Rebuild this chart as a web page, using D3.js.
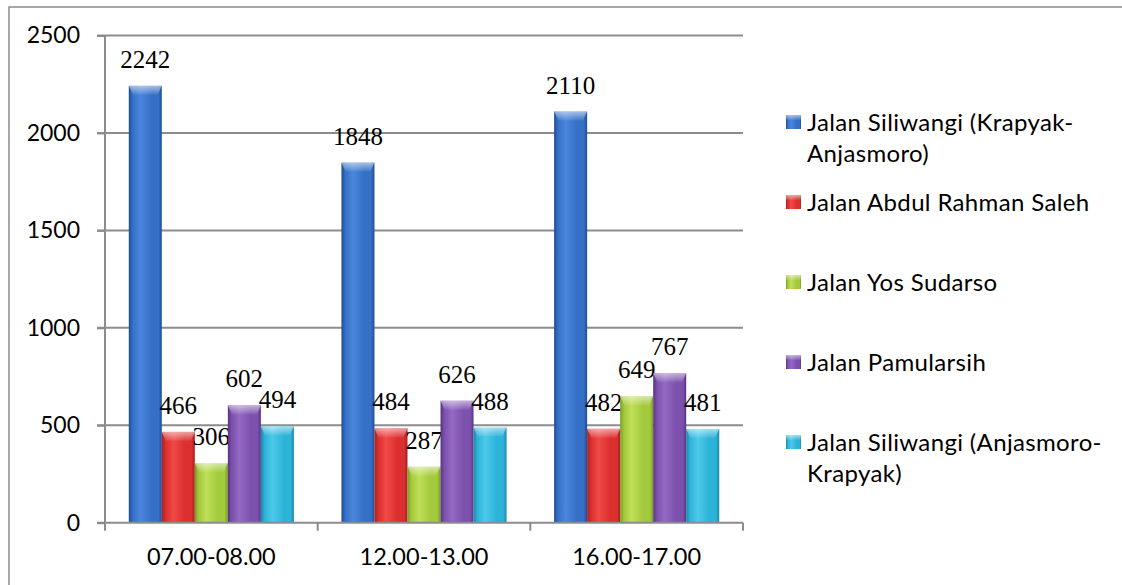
<!DOCTYPE html>
<html>
<head>
<meta charset="utf-8">
<script src="https://cdn.jsdelivr.net/npm/d3@7"></script>
<style>
  html, body { margin: 0; padding: 0; background: #fff; }
  svg { display: block; }
</style>
</head>
<body>
<svg id="chart" width="1122" height="585"></svg>
<script>
// Time slots and traffic volume per road segment
const categories = ["07.00-08.00", "12.00-13.00", "16.00-17.00"];
const seriesNames = [
  ["Jalan Siliwangi (Krapyak-", "Anjasmoro)"],
  ["Jalan Abdul Rahman Saleh"],
  ["Jalan Yos Sudarso"],
  ["Jalan Pamularsih"],
  ["Jalan Siliwangi (Anjasmoro-", "Krapyak)"]
];
const siliwangiKrapyakAnjasmoro = [2242, 1848, 2110];
const abdulRahmanSaleh = [466, 484, 482];
const yosSudarso = [306, 287, 649];
const pamularsih = [602, 626, 767];
const siliwangiAnjasmoroKrapyak = [494, 488, 481];
const yTicks = [0, 500, 1000, 1500, 2000, 2500];

const seriesValues = [siliwangiKrapyakAnjasmoro, abdulRahmanSaleh, yosSudarso, pamularsih, siliwangiAnjasmoroKrapyak];
// base, light, dark tones for the bevelled bars
const palette = [
  ["#3570c6", "#4a86dc", "#1f4c95"],
  ["#dc2f2f", "#ef4a48", "#a81f1f"],
  ["#a3c93c", "#bfdf58", "#7a9c22"],
  ["#7c51ad", "#9369c4", "#573483"],
  ["#2db3d8", "#4cc9ea", "#1a87a8"]
];

const svg = d3.select("#chart");
const defs = svg.append("defs");
const serifFont = "'Liberation Serif', 'Times New Roman', serif";
const sansFont = "Lato, 'Open Sans', sans-serif";

palette.forEach((c, i) => {
  const g = defs.append("linearGradient").attr("id", "bar" + i)
    .attr("x1", 0).attr("x2", 1).attr("y1", 0).attr("y2", 0);
  [[0, c[2]], [0.12, c[0]], [0.35, c[1]], [0.7, c[0]], [0.9, c[0]], [1, c[2]]]
    .forEach(([o, col]) => g.append("stop").attr("offset", o).attr("stop-color", col));
});
const cap = defs.append("linearGradient").attr("id", "cap")
  .attr("x1", 0).attr("x2", 0).attr("y1", 0).attr("y2", 1);
cap.append("stop").attr("offset", 0).attr("stop-color", "#fff").attr("stop-opacity", 0.55);
cap.append("stop").attr("offset", 1).attr("stop-color", "#fff").attr("stop-opacity", 0.05);

// outer frame
svg.append("path")
  .attr("d", "M9,590 L9,7 L1130,7")
  .attr("fill", "none").attr("stroke", "#8c8c8c").attr("stroke-width", 1.5);

const x0 = d3.scaleBand().domain(categories).range([105, 743]).padding(0);
const x1 = d3.scaleBand().domain(d3.range(seriesValues.length))
  .range([0, x0.bandwidth()]).paddingInner(0).paddingOuter(0.72);
const y = d3.scaleLinear().domain([0, 2500]).range([522.7, 35.5]);

// gridlines
svg.append("g").selectAll("line").data(yTicks.filter(d => d > 0)).join("line")
  .attr("x1", 97).attr("x2", 743)
  .attr("y1", d => y(d)).attr("y2", d => y(d))
  .attr("stroke", "#8c8c8c").attr("stroke-width", 2);

// y axis
const yAxis = svg.append("g").attr("transform", "translate(105,0)")
  .call(d3.axisLeft(y).tickValues(yTicks).tickSize(8).tickPadding(17).tickFormat(d3.format("d")));
yAxis.select(".domain").attr("stroke", "#8c8c8c").attr("stroke-width", 2).attr("d", `M0,${y(2500)}V${y(0)}`);
yAxis.selectAll(".tick line").attr("stroke", "#8c8c8c").attr("stroke-width", 2);
yAxis.selectAll(".tick text").attr("font-family", sansFont).attr("font-size", 23).attr("fill", "#000");

// bars
const groups = svg.append("g").selectAll("g").data(categories).join("g")
  .attr("transform", d => `translate(${x0(d)},0)`);

groups.each(function(cat, ci) {
  const g = d3.select(this);
  seriesValues.forEach((vals, si) => {
    const v = vals[ci];
    const bx = x1(si), bw = x1.bandwidth();
    const top = y(v), h = y(0) - y(v);
    g.append("rect").attr("x", bx).attr("y", top).attr("width", bw).attr("height", h)
      .attr("fill", `url(#bar${si})`);
    g.append("path")
      .attr("d", `M${bx},${top} H${bx + bw} L${bx + bw - 4},${top + 9} H${bx + 4} Z`)
      .attr("fill", "url(#cap)");
    g.append("text")
      .attr("x", bx + bw / 2).attr("y", top - 18)
      .attr("text-anchor", "middle")
      .attr("font-family", serifFont).attr("font-size", 25).attr("fill", "#000")
      .text(v);
  });
});

// x axis
const xAxis = svg.append("g").attr("transform", `translate(0,${y(0)})`);
xAxis.append("line").attr("x1", 97).attr("x2", 743).attr("y1", 0).attr("y2", 0)
  .attr("stroke", "#8c8c8c").attr("stroke-width", 2);
xAxis.selectAll("line.tk").data([...categories.map(c => x0(c)), x0.range()[1]]).join("line")
  .attr("class", "tk").attr("x1", d => d).attr("x2", d => d).attr("y1", 0).attr("y2", 8)
  .attr("stroke", "#8c8c8c").attr("stroke-width", 2);
xAxis.selectAll("text").data(categories).join("text")
  .attr("x", d => x0(d) + x0.bandwidth() / 2).attr("y", 34)
  .attr("dy", "0.35em").attr("text-anchor", "middle")
  .attr("font-family", sansFont).attr("font-size", 23.5).attr("fill", "#000")
  .text(d => d);

// legend
const legend = svg.append("g");
seriesNames.forEach((lines, i) => {
  const cy = 122 + i * 80;
  legend.append("rect").attr("x", 786).attr("y", cy - 7).attr("width", 15).attr("height", 14)
    .attr("fill", `url(#bar${i})`);
  legend.append("rect").attr("x", 786).attr("y", cy - 7).attr("width", 15).attr("height", 5)
    .attr("fill", "url(#cap)");
  const t = legend.append("text").attr("font-family", sansFont).attr("font-size", 24)
    .attr("letter-spacing", 0.35).attr("fill", "#000");
  lines.forEach((ln, li) => {
    t.append("tspan").attr("x", 807).attr("y", cy + li * 31).attr("dy", "0.36em").text(ln);
  });
});
</script>
</body>
</html>
